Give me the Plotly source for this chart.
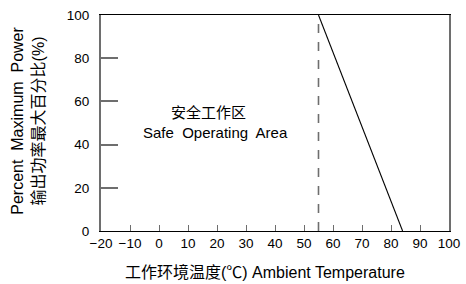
import plotly.graph_objects as go

# Data
derate_temp = [55, 84]
derate_power = [100, 0]
limit_temp = [55, 55]
limit_power = [0, 100]
x_ticks = [-20, -10, 0, 10, 20, 30, 40, 50, 60, 70, 80, 90, 100]
y_ticks = [0, 20, 40, 60, 80, 100]

FONT = "Liberation Sans, Arial, Noto Sans CJK SC, sans-serif"

fig = go.Figure()
fig.add_trace(go.Scatter(x=limit_temp, y=limit_power, mode="lines",
                         line=dict(color="#6e6e6e", width=1.6, dash="dash"),
                         hoverinfo="skip", showlegend=False))
fig.add_trace(go.Scatter(x=derate_temp, y=derate_power, mode="lines",
                         line=dict(color="#000000", width=1.1),
                         hoverinfo="skip", showlegend=False))

fig.update_layout(
    width=466, height=284,
    margin=dict(l=101, r=17, t=15, b=53, autoexpand=False),
    paper_bgcolor="white", plot_bgcolor="white",
    font=dict(family=FONT, size=14, color="#000"),
    showlegend=False,
    xaxis=dict(range=[-20, 100], tickvals=x_ticks, ticks="inside", ticklen=6,
               tickcolor="#6e6e6e", tickwidth=1.2, showgrid=False, zeroline=False,
               showline=True, linecolor="#000", linewidth=1, mirror=True,
               tickfont=dict(size=13.5), fixedrange=True, automargin=False),
    yaxis=dict(range=[0, 100], tickvals=y_ticks, ticks="inside", ticklen=17,
               tickcolor="#6e6e6e", tickwidth=1.5, showgrid=False, zeroline=False,
               showline=True, linecolor="#6e6e6e", linewidth=2, mirror=True,
               tickfont=dict(size=13.5), fixedrange=True, automargin=False,
               ticklabelstandoff=7),
    annotations=[
        dict(text="Percent  Maximum  Power<br>输出功率最大百分比(%)", textangle=-90,
             x=-0.21, y=0.51, xref="paper", yref="paper", showarrow=False,
             font=dict(size=16), xanchor="center", yanchor="middle"),
        dict(text="工作环境温度(℃) Ambient Temperature",
             x=0.47, y=-0.19, xref="paper", yref="paper", showarrow=False,
             font=dict(size=16), xanchor="center", yanchor="middle"),
        dict(text="安全工作区", x=0.31, y=0.55, xref="paper", yref="paper",
             showarrow=False, font=dict(size=15), xanchor="center", yanchor="middle"),
        dict(text="Safe  Operating  Area", x=0.33, y=0.455, xref="paper", yref="paper",
             showarrow=False, font=dict(size=15), xanchor="center", yanchor="middle"),
    ],
)

fig.write_html("out.html", post_script="document.body.style.margin='0';",
               config={"displayModeBar": False})
